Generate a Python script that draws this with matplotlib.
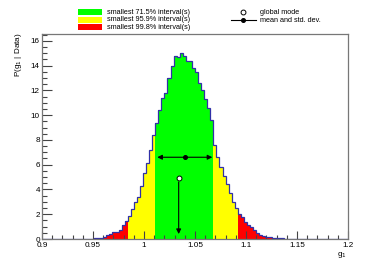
import numpy as np
import matplotlib
matplotlib.use("Agg")
import matplotlib.pyplot as plt
from matplotlib.patches import Rectangle
from matplotlib.lines import Line2D
from matplotlib.ticker import MultipleLocator

plt.rcParams["font.family"] = ["Liberation Sans", "DejaVu Sans"]

# posterior histogram, 100 bins of 0.003 from 0.9 to 1.2
bin_lo, bin_hi, n_bins = 0.9, 1.2, 100
heights = [0.0] * 16 + [
    0.03, 0.06, 0.08, 0.12, 0.15, 0.3, 0.4, 0.55, 0.6, 0.75,
    1.1, 1.45, 1.85, 2.4, 3.0, 3.4, 4.3, 5.3, 6.1, 7.2,
    8.4, 9.4, 10.4, 11.4, 11.8, 13.0, 14.0, 14.8, 14.7,
    15.0, 14.75, 14.4, 14.4, 13.8, 13.5, 12.6, 12.0, 11.3, 10.6, 9.6,
    7.6, 6.6, 5.8, 5.1, 4.4, 3.7, 3.0, 2.5, 2.0, 1.75,
    1.4, 1.15, 0.95, 0.75, 0.5, 0.35, 0.25, 0.2, 0.15, 0.12,
    0.1, 0.08, 0.06, 0.04, 0.03,
]
heights += [0.0] * (n_bins - len(heights))

# smallest intervals (bin edges)
band_71 = (1.011, 1.068)
band_95 = (0.984, 1.092)

mean_val, std_val, mean_y = 1.040, 0.027, 6.6
mode_val, mode_y = 1.034, 4.9

edges = np.linspace(bin_lo, bin_hi, n_bins + 1)
heights = np.array(heights)

fig = plt.figure(figsize=(3.9, 2.69), dpi=100)
ax = fig.add_axes([42 / 390, 1 - 239 / 269, 306 / 390, 205 / 269])

colors = []
for lo, hi in zip(edges[:-1], edges[1:]):
    mid = 0.5 * (lo + hi)
    if band_71[0] <= mid <= band_71[1]:
        colors.append("#00ff00")
    elif band_95[0] <= mid <= band_95[1]:
        colors.append("#ffff00")
    else:
        colors.append("#ff0000")

ax.bar(edges[:-1], heights, width=np.diff(edges), align="edge",
       color=colors, linewidth=0, zorder=1)
ax.stairs(heights, edges, color="#3030a8", linewidth=0.9, zorder=2)

# mean and std dev
ax.annotate("", xy=(mean_val + std_val, mean_y), xytext=(mean_val - std_val, mean_y),
            arrowprops=dict(arrowstyle="<|-|>", color="black", lw=0.8,
                            mutation_scale=7, shrinkA=0, shrinkB=0), zorder=3)
ax.plot([mean_val], [mean_y], "o", color="black", markersize=2.6, zorder=4)

# global mode
ax.annotate("", xy=(mode_val, 0.4), xytext=(mode_val, mode_y - 0.3),
            arrowprops=dict(arrowstyle="-|>", color="black", lw=0.8,
                            mutation_scale=7, shrinkA=0, shrinkB=0), zorder=3)
ax.plot([mode_val], [mode_y], "o", mfc="white", mec="black", mew=0.7,
        markersize=3.5, zorder=4)

ax.set_xlim(bin_lo, bin_hi)
ax.set_ylim(0, 16.55)
ax.xaxis.set_major_locator(MultipleLocator(0.05))
ax.xaxis.set_minor_locator(MultipleLocator(0.01))
ax.yaxis.set_major_locator(MultipleLocator(2))
ax.yaxis.set_minor_locator(MultipleLocator(0.5))
ax.set_xticks([0.9, 0.95, 1.0, 1.05, 1.1, 1.15, 1.2])
ax.set_xticklabels(["0.9", "0.95", "1", "1.05", "1.1", "1.15", "1.2"])
ax.tick_params(which="both", direction="in", labelsize=5.9, colors="#444444",
               labelcolor="black", width=0.8)
ax.tick_params(axis="x", pad=2.5)
ax.tick_params(axis="y", pad=1.5)
ax.tick_params(which="major", axis="x", length=6)
ax.tick_params(which="minor", axis="x", length=3)
ax.tick_params(which="major", axis="y", length=7)
ax.tick_params(which="minor", axis="y", length=3.5)
for s in ax.spines.values():
    s.set_color("#777777")
    s.set_linewidth(0.9)

fig.text(18 / 390, 1 - 32 / 269, "P(g$_1$ | Data)", rotation=90, ha="center",
         va="top", fontsize=5.9)
fig.text(347 / 390, 1 - 255 / 269, "g$_1$", ha="right", va="center", fontsize=5.9)

# legend drawn by hand
leg_fill = [("#00ff00", "smallest 71.5% interval(s)", 12.3),
            ("#ffff00", "smallest 95.9% interval(s)", 19.7),
            ("#ff0000", "smallest 99.8% interval(s)", 27.4)]
for col, txt, yc in leg_fill:
    fig.add_artist(Rectangle((78 / 390, 1 - (yc + 3) / 269), 24 / 390, 6 / 269,
                             facecolor=col, edgecolor="none", transform=fig.transFigure))
    fig.text(107 / 390, 1 - yc / 269, txt, ha="left", va="center", fontsize=5.2)

fig.add_artist(Line2D([243 / 390], [1 - 12 / 269], marker="o", mfc="white", mec="black",
                      mew=0.7, markersize=3.5, transform=fig.transFigure))
fig.add_artist(Line2D([231 / 390, 256 / 390], [1 - 20 / 269] * 2, color="black", lw=0.8,
                      transform=fig.transFigure))
fig.add_artist(Line2D([243 / 390], [1 - 20 / 269], marker="o", color="black",
                      markersize=2.6, transform=fig.transFigure))
fig.text(260 / 390, 1 - 12 / 269, "global mode", ha="left", va="center", fontsize=5.2)
fig.text(260 / 390, 1 - 20 / 269, "mean and std. dev.", ha="left", va="center", fontsize=5.2)

fig.savefig("out.png", dpi=100)
